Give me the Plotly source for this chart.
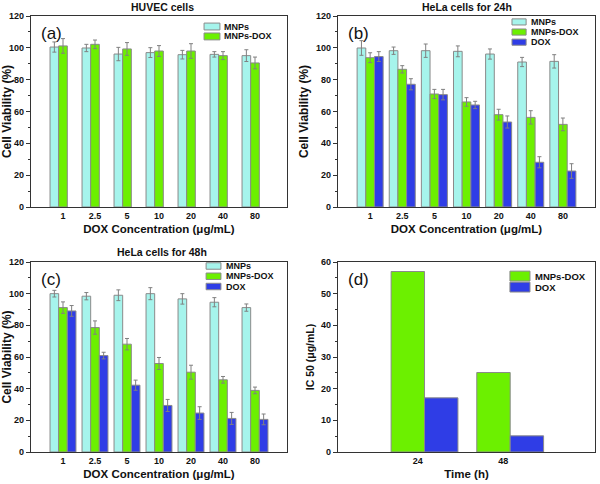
import plotly.graph_objects as go
from plotly.subplots import make_subplots

conc_labels = ["1", "2.5", "5", "10", "20", "40", "80"]

# (a) HUVEC cells
huvec_mnps = [100.5, 99.9, 96.1, 97.0, 95.7, 95.9, 95.1]
huvec_mnps_err = [3.2, 2.3, 4.2, 3.1, 2.7, 1.7, 3.7]
huvec_mnpsdox = [101.2, 102.2, 99.3, 98.0, 98.0, 95.1, 90.5]
huvec_mnpsdox_err = [4.6, 2.7, 4.0, 3.4, 4.6, 2.5, 3.7]

# (b) HeLa 24h
hela24_mnps = [99.9, 98.2, 98.2, 97.8, 96.1, 91.1, 91.5]
hela24_mnps_err = [4.6, 2.3, 4.2, 3.4, 3.2, 2.9, 4.2]
hela24_mnpsdox = [93.8, 86.5, 71.0, 66.0, 58.0, 56.3, 51.9]
hela24_mnpsdox_err = [3.1, 2.3, 2.9, 2.7, 3.4, 4.2, 4.0]
hela24_dox = [94.5, 77.1, 70.6, 64.1, 53.4, 28.1, 22.6]
hela24_dox_err = [3.1, 3.5, 3.3, 2.3, 3.8, 3.5, 4.6]

# (c) HeLa 48h
hela48_mnps = [100.0, 98.4, 99.0, 100.0, 96.7, 94.6, 91.2]
hela48_mnps_err = [2.1, 2.3, 3.4, 3.8, 3.3, 2.9, 2.3]
hela48_mnpsdox = [91.2, 78.6, 68.1, 55.9, 50.4, 45.6, 38.9]
hela48_mnpsdox_err = [3.6, 4.2, 3.6, 3.8, 4.4, 2.1, 2.1]
hela48_dox = [89.1, 60.9, 42.2, 29.4, 24.6, 21.2, 20.6]
hela48_dox_err = [3.4, 2.1, 3.2, 3.8, 4.0, 3.8, 3.4]

# (d) IC50
time_labels = ["24", "48"]
ic50_mnpsdox = [57.0, 25.1]
ic50_dox = [17.1, 5.1]

C_MNP = "#A6F4EC"
C_MD = "#6CF000"
C_DOX = "#2F3DE6"
EDGE = "#8a8a8a"
FONT = "Liberation Sans"

pos = list(range(1, len(conc_labels) + 1))
tpos = list(range(1, len(time_labels) + 1))

fig = make_subplots(rows=2, cols=2)

def bar(x, y, err, name, color, offset, width):
    kw = dict(
        x=x, y=y, name=name, offset=offset, width=width,
        marker=dict(color=color, line=dict(color=EDGE, width=1)),
        showlegend=False,
    )
    if err is not None:
        kw["error_y"] = dict(type="data", array=err, color="#808080",
                             thickness=1, width=2)
    return go.Bar(**kw)

w = 0.27
fig.add_trace(bar(pos, huvec_mnps, huvec_mnps_err, "MNPs", C_MNP, -1.5 * w, w), 1, 1)
fig.add_trace(bar(pos, huvec_mnpsdox, huvec_mnpsdox_err, "MNPs-DOX", C_MD, -0.5 * w, w), 1, 1)

fig.add_trace(bar(pos, hela24_mnps, hela24_mnps_err, "MNPs", C_MNP, -1.5 * w, w), 1, 2)
fig.add_trace(bar(pos, hela24_mnpsdox, hela24_mnpsdox_err, "MNPs-DOX", C_MD, -0.5 * w, w), 1, 2)
fig.add_trace(bar(pos, hela24_dox, hela24_dox_err, "DOX", C_DOX, 0.5 * w, w), 1, 2)

fig.add_trace(bar(pos, hela48_mnps, hela48_mnps_err, "MNPs", C_MNP, -1.5 * w, w), 2, 1)
fig.add_trace(bar(pos, hela48_mnpsdox, hela48_mnpsdox_err, "MNPs-DOX", C_MD, -0.5 * w, w), 2, 1)
fig.add_trace(bar(pos, hela48_dox, hela48_dox_err, "DOX", C_DOX, 0.5 * w, w), 2, 1)

fig.add_trace(bar(tpos, ic50_mnpsdox, None, "MNPs-DOX", C_MD, -0.38, 0.39), 2, 2)
fig.add_trace(bar(tpos, ic50_dox, None, "DOX", C_DOX, 0.01, 0.39), 2, 2)

dom_l = [31 / 600, 287 / 600]
dom_r = [338 / 600, 595 / 600]
dom_t = [1 - 207 / 484, 1 - 16 / 484]
dom_b = [1 - 452 / 484, 1 - 262 / 484]

axis_common = dict(showline=True, mirror=True, linecolor="#333", linewidth=1.2,
                   showgrid=False, zeroline=False, automargin=False,
                   tickfont=dict(family=FONT, size=9, color="#111", weight="bold"))
ytitle_font = dict(family=FONT, size=12, color="#111", weight="bold")
xtitle_font = dict(family=FONT, size=11.5, color="#111", weight="bold")

for i, (xd, yd) in enumerate([(dom_l, dom_t), (dom_r, dom_t), (dom_l, dom_b), (dom_r, dom_b)], start=1):
    xs = "xaxis" if i == 1 else f"xaxis{i}"
    ys = "yaxis" if i == 1 else f"yaxis{i}"
    fig.layout[xs].update(domain=xd, **axis_common)
    fig.layout[ys].update(domain=yd, **axis_common)

for i in (1, 2, 3):
    xs = "xaxis" if i == 1 else f"xaxis{i}"
    ys = "yaxis" if i == 1 else f"yaxis{i}"
    fig.layout[xs].update(range=[0, 8], tickvals=pos, ticktext=conc_labels, ticks="",
                          title=dict(text="DOX Concentration (μg/mL)", font=xtitle_font, standoff=5))
    fig.layout[ys].update(range=[0, 120], dtick=20, ticks="outside", ticklen=4, tickwidth=1,
                          tickcolor="#333",
                          minor=dict(dtick=10, ticks="outside", ticklen=2, tickcolor="#333"),
                          title=dict(text="Cell Viability (%)", font=ytitle_font, standoff=4))

fig.layout.xaxis4.update(range=[0, 3], tickvals=tpos, ticktext=time_labels, ticks="",
                         ticklabelshift=-6,
                         title=dict(text="Time (h)", font=xtitle_font, standoff=5))
fig.layout.yaxis4.update(range=[0, 60], dtick=10, ticks="outside", ticklen=4, tickwidth=1,
                         tickcolor="#333",
                         minor=dict(dtick=5, ticks="outside", ticklen=2, tickcolor="#333"),
                         title=dict(text="IC 50 (μg/mL)", font=dict(family=FONT, size=10.5, color="#111", weight="bold"), standoff=4))

titles = [("HUVEC cells", 162 / 600, 1 - 7 / 484),
          ("HeLa cells for 24h", 467 / 600, 1 - 7 / 484),
          ("HeLa cells for 48h", 162 / 600, 1 - 252 / 484)]
for text, x, y in titles:
    fig.add_annotation(text=text, x=x, y=y, xref="paper", yref="paper", showarrow=False,
                       xanchor="center", yanchor="middle",
                       font=dict(family=FONT, size=10.5, color="#111", weight="bold"))

for i, lab in enumerate(["(a)", "(b)", "(c)", "(d)"], start=1):
    sfx = "" if i == 1 else str(i)
    fig.add_annotation(text=lab, x=0.03, y=0.97, xref=f"x{sfx} domain", yref=f"y{sfx} domain",
                       showarrow=False, xanchor="left", yanchor="top",
                       font=dict(family=FONT, size=17, color="#111"))

# legend boxes drawn per panel (domain fractions): x0, x1, first row centre, row step, half height
def legend(panel, items, x0, x1, y_first, step, hh, size=9):
    sfx = "" if panel == 1 else str(panel)
    for k, (name, color) in enumerate(items):
        yc = y_first - k * step
        fig.add_shape(type="rect", xref=f"x{sfx} domain", yref=f"y{sfx} domain",
                      x0=x0, x1=x1, y0=yc - hh, y1=yc + hh,
                      fillcolor=color, line=dict(color=EDGE, width=1))
        fig.add_annotation(text=name, x=x1 + 0.01, y=yc, xref=f"x{sfx} domain", yref=f"y{sfx} domain",
                           showarrow=False, xanchor="left", yanchor="middle",
                           font=dict(family=FONT, size=size, color="#111", weight="bold"))

legend(1, [("MNPs", C_MNP), ("MNPs-DOX", C_MD)], 0.676, 0.738, 0.945, 0.052, 0.018)
legend(2, [("MNPs", C_MNP), ("MNPs-DOX", C_MD), ("DOX", C_DOX)], 0.677, 0.732, 0.969, 0.053, 0.016)
legend(3, [("MNPs", C_MNP), ("MNPs-DOX", C_MD), ("DOX", C_DOX)], 0.684, 0.742, 0.979, 0.054, 0.017)
legend(4, [("MNPs-DOX", C_MD), ("DOX", C_DOX)], 0.669, 0.747, 0.926, 0.058, 0.026, size=9.5)

fig.update_layout(
    barmode="overlay",
    template="none",
    width=600, height=484,
    margin=dict(l=0, r=0, t=0, b=0),
    plot_bgcolor="white", paper_bgcolor="white",
)

# the page's default body margin would push the 600x484 figure off the window
fig.write_html("out.html", config={"displayModeBar": False},
               post_script="document.body.style.margin = '0';")
